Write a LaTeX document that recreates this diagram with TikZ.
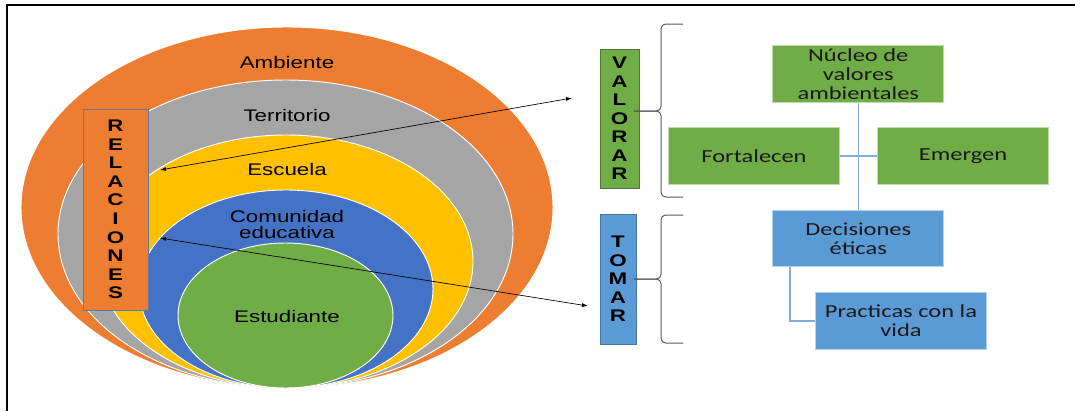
\documentclass[tikz,border=0pt]{standalone}
\usepackage{fontspec}
\setmainfont[FakeStretch=1.33]{Liberation Sans}
\newfontfamily\calfont[FakeStretch=1.33]{Carlito}
\usetikzlibrary{arrows.meta}
\definecolor{custom-orange}{RGB}{237, 125, 49}
\definecolor{custom-gray}{RGB}{165, 165, 165}
\definecolor{custom-yellow}{RGB}{255, 192, 0}
\definecolor{custom-blue}{RGB}{68, 114, 196}
\definecolor{custom-green}{RGB}{112, 173, 71}
\definecolor{custom-sky}{RGB}{91, 155, 213}
\definecolor{custom-link}{RGB}{132, 170, 218}
\definecolor{custom-edge}{RGB}{100, 122, 152}

\begin{document}
\begin{tikzpicture}[x=0.75pt, y=-0.75pt,
    ring/.style={fill=#1, draw=white, line width=0.7pt},
    ringtext/.style={font=\fontsize{12.6}{11.3}\selectfont, align=center, inner sep=0pt},
    letters/.style={fill=#1, font=\bfseries\fontsize{12.6}{13.9}\selectfont, align=center, inner sep=0pt, line width=0.75pt},
    conceptbox/.style={fill=#1, draw=#1!45!white, line width=0.75pt, font=\calfont\fontsize{13.8}{14.3}\selectfont, text=black!90, align=center, inner sep=0pt, minimum width=128pt, minimum height=42.3pt},
    brace/.style={draw=black!65, line width=0.75pt, rounded corners=3.5pt},
    relarrow/.style={{Latex[length=4.5pt,width=3pt]}-{Latex[length=4.5pt,width=3pt]}, line width=0.5pt},
    link/.style={draw=custom-link, line width=1.1pt}]
\useasboundingbox (0,0) rectangle (1075,411);
\draw[line width=1.5pt] (7,411) -- (7,5) -- (1075,5);
% nested rings
\filldraw[ring=custom-orange] (287,207.5) ellipse [x radius=266, y radius=180.5];
\filldraw[ring=custom-gray] (285.5,234) ellipse [x radius=227.5, y radius=154];
\filldraw[ring=custom-yellow] (286,261.5) ellipse [x radius=187, y radius=126.5];
\filldraw[ring=custom-blue] (286,289) ellipse [x radius=147, y radius=99];
\filldraw[ring=custom-green] (285.5,315.5) ellipse [x radius=107.5, y radius=72.5];
\node[ringtext] (ambiente) at (287,62) {Ambiente};
\node[ringtext] (territorio) at (287,115) {Territorio};
\node[ringtext] (escuela) at (287,169) {Escuela};
\node[ringtext] (comunidad) at (287,224.5) {Comunidad\\educativa};
\node[ringtext] (estudiante) at (287,316) {Estudiante};
% side labels
\node[letters=custom-orange, draw=custom-edge, minimum width=48.75pt, minimum height=150.75pt] (relaciones) at (115.5,209.5) {R\\E\\L\\A\\C\\I\\O\\N\\E\\S};
\node[letters=custom-green, draw=custom-green!70!black, minimum width=29.25pt, minimum height=104.25pt] (valorar) at (619.5,118.5) {V\\A\\L\\O\\R\\A\\R};
\node[letters=custom-sky, draw=custom-sky!75!black, minimum width=27pt, minimum height=97.5pt] (tomar) at (618,279) {T\\O\\M\\A\\R};
% arrows
\coordinate (escuela-in) at (160,170);
\coordinate (valorar-in) at (572,98);
\coordinate (comunidad-in) at (160,238);
\coordinate (tomar-in) at (588,306);
\draw[relarrow] (escuela-in) -- (valorar-in);
\draw[relarrow] (comunidad-in) -- (tomar-in);
% braces
\coordinate (vtop) at (683,24);
\coordinate (vbot) at (683,197);
\coordinate (vtip) at (634,111);
\coordinate (ttop) at (683,215);
\coordinate (tbot) at (683,343);
\coordinate (ttip) at (634,279);
\draw[brace] (vtop) -- (661,24) -- (661,111) -- (vtip);
\draw[brace] (vbot) -- (661,197) -- (661,111) -- (vtip);
\draw[brace] (ttop) -- (661,215) -- (661,279) -- (ttip);
\draw[brace] (tbot) -- (661,343) -- (661,279) -- (ttip);
% concept boxes
\node[conceptbox=custom-green] (nucleo) at (858.3,74) {Núcleo de\\valores\\ambientales};
\node[conceptbox=custom-green] (fortalecen) at (754,156) {Fortalecen};
\node[conceptbox=custom-green] (emergen) at (963,156) {Emergen};
\node[conceptbox=custom-sky] (decisiones) at (858.3,238.5) {Decisiones\\éticas};
\node[conceptbox=custom-sky] (practicas) at (901,321) {Practicas con la\\vida};
\draw[link] (nucleo.south) -- (decisiones.north);
\draw[link] (fortalecen.east) -- (emergen.west);
\draw[link] ([xshift=-51.2pt]decisiones.south) |- (practicas.west);
\end{tikzpicture}
\end{document}
